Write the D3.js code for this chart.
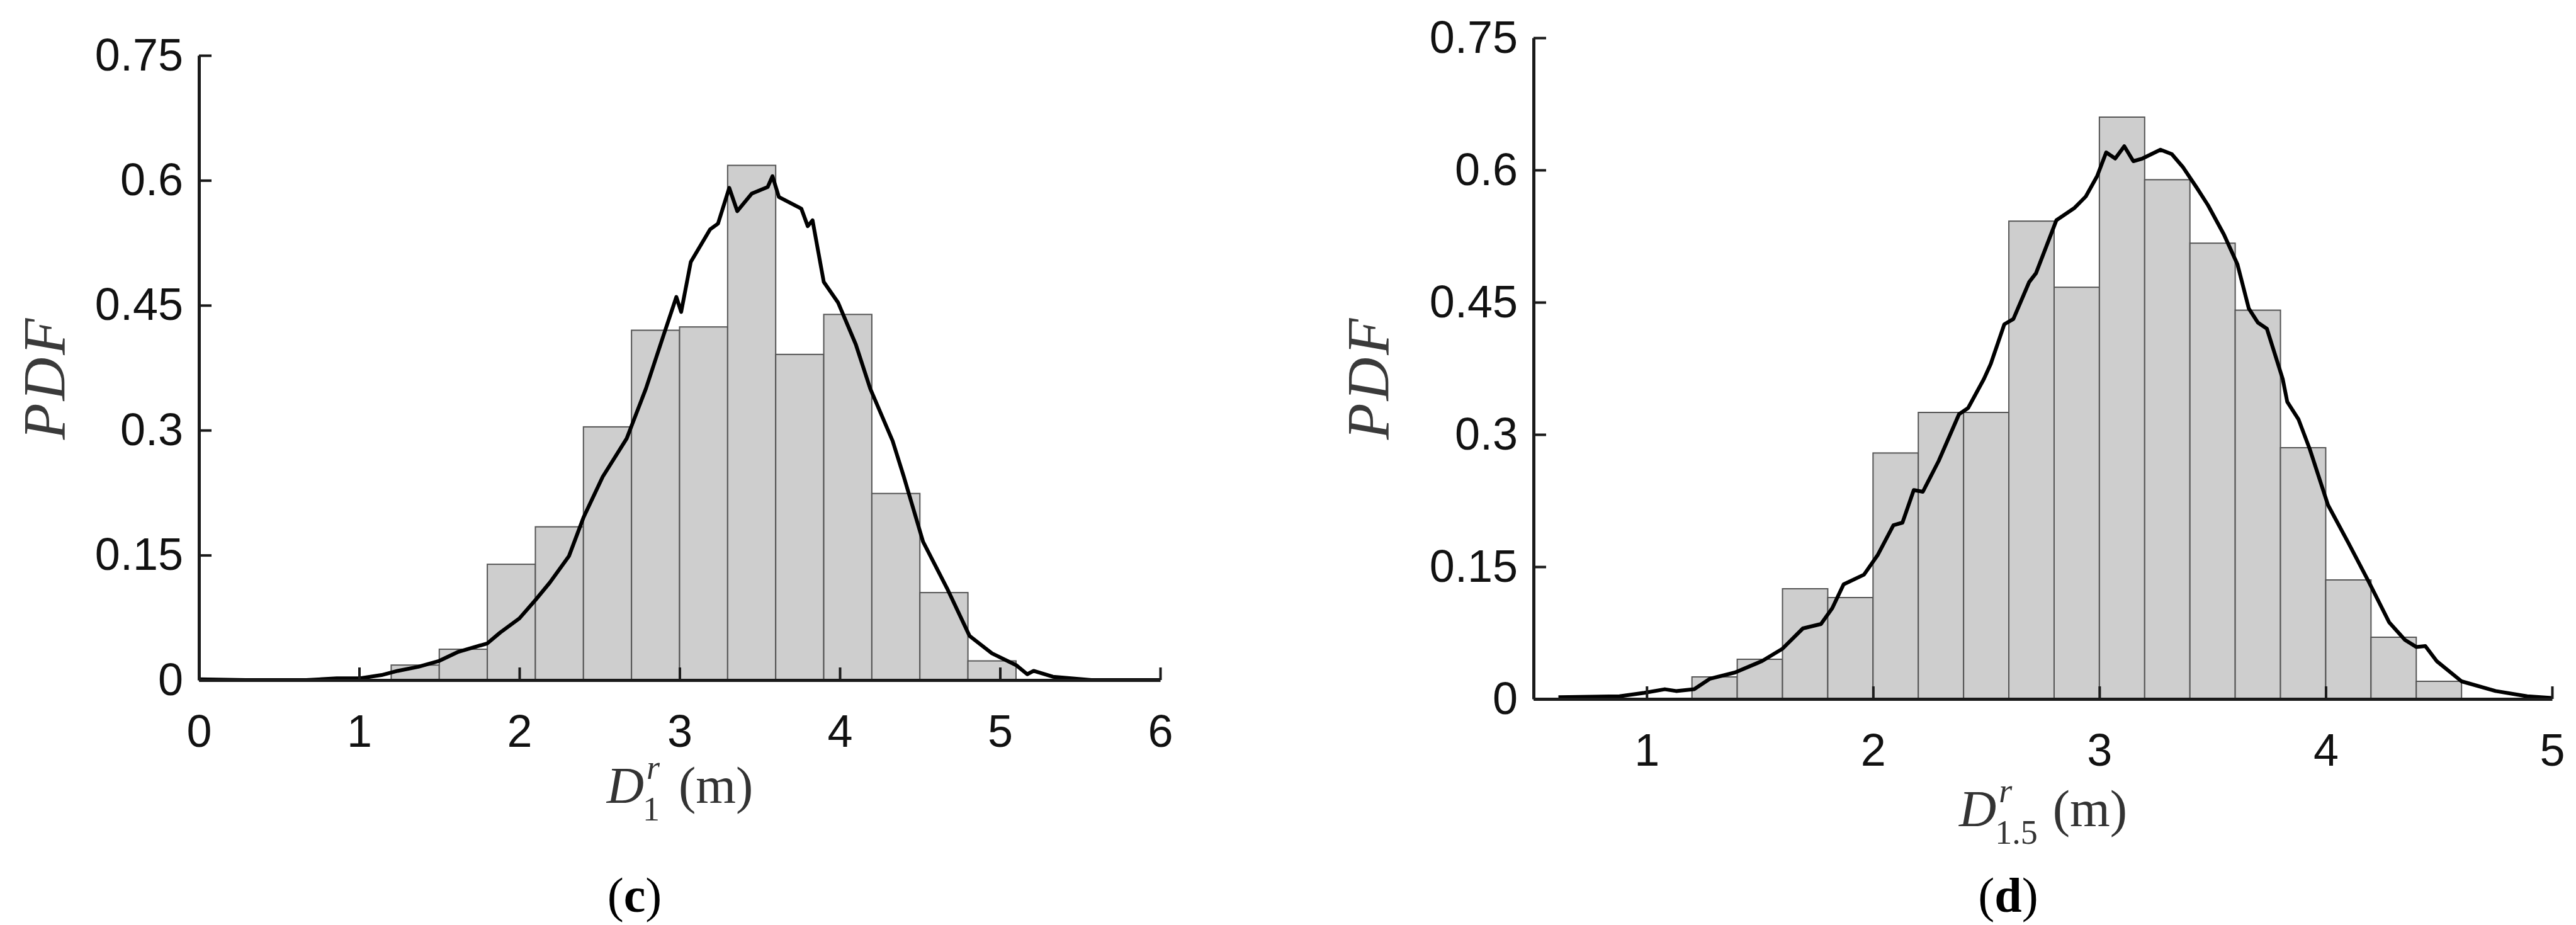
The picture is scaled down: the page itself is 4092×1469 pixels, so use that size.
<!DOCTYPE html>
<html>
<head>
<meta charset="utf-8">
<script src="https://cdn.jsdelivr.net/npm/d3@7"></script>
<style>
    body { margin: 0; background: #fff; }
    .tick text { font-family: "Liberation Sans", Arial, sans-serif; }
</style>
</head>
<body>
<svg id="fig" width="4092" height="1469"></svg>
<script>

//  panel (c) : D_1^r
var edgesC = [1.2, 1.5, 1.8, 2.1, 2.4, 2.7, 3.0, 3.3, 3.6, 3.9, 4.2, 4.5, 4.8, 5.1];
var pdfC = [0.018, 0.037, 0.139, 0.184, 0.304, 0.420, 0.424, 0.618, 0.391, 0.439, 0.224, 0.105, 0.023];
var kdeXC = [0, 0.29, 0.67, 0.86, 1.0, 1.14, 1.24, 1.37, 1.5, 1.62, 1.8, 1.88, 2.0, 2.1, 2.19, 2.31, 2.4, 2.52, 2.67, 2.79, 2.9, 2.98, 3.01, 3.07, 3.19, 3.24, 3.31, 3.36, 3.45, 3.55, 3.58, 3.62, 3.76, 3.8, 3.83, 3.9, 3.99, 4.1, 4.19, 4.33, 4.4, 4.52, 4.67, 4.81, 4.95, 5.1, 5.17, 5.21, 5.33, 5.57, 6.0];
var kdeYC = [0.001, 0.0, 0.0, 0.002, 0.002, 0.006, 0.011, 0.016, 0.023, 0.034, 0.044, 0.057, 0.074, 0.096, 0.117, 0.149, 0.195, 0.244, 0.290, 0.350, 0.414, 0.460, 0.442, 0.502, 0.541, 0.548, 0.591, 0.563, 0.584, 0.592, 0.605, 0.580, 0.566, 0.545, 0.552, 0.478, 0.453, 0.403, 0.350, 0.287, 0.244, 0.166, 0.110, 0.053, 0.032, 0.018, 0.007, 0.011, 0.004, 0.0, 0.0];
var xTicksC = [0, 1, 2, 3, 4, 5, 6];

//  panel (d) : D_1.5^r
var edgesD = [1.2, 1.4, 1.6, 1.8, 2.0, 2.2, 2.4, 2.6, 2.8, 3.0, 3.2, 3.4, 3.6, 3.8, 4.0, 4.2, 4.4, 4.6];
var pdfD = [0.025, 0.045, 0.125, 0.115, 0.279, 0.325, 0.325, 0.542, 0.467, 0.660, 0.589, 0.517, 0.441, 0.285, 0.135, 0.070, 0.020];
var kdeXD = [0.61, 0.88, 0.99, 1.08, 1.13, 1.21, 1.28, 1.39, 1.51, 1.6, 1.69, 1.77, 1.82, 1.87, 1.96, 2.02, 2.09, 2.13, 2.18, 2.22, 2.29, 2.38, 2.42, 2.49, 2.52, 2.58, 2.62, 2.69, 2.72, 2.78, 2.81, 2.89, 2.94, 2.99, 3.03, 3.07, 3.11, 3.15, 3.19, 3.23, 3.27, 3.32, 3.37, 3.43, 3.48, 3.55, 3.61, 3.66, 3.7, 3.74, 3.81, 3.83, 3.88, 3.93, 4.01, 4.1, 4.19, 4.28, 4.35, 4.4, 4.44, 4.49, 4.6, 4.75, 4.89, 5.0];
var kdeYD = [0.002, 0.003, 0.007, 0.011, 0.009, 0.011, 0.023, 0.030, 0.043, 0.057, 0.080, 0.085, 0.103, 0.130, 0.141, 0.163, 0.197, 0.200, 0.237, 0.235, 0.270, 0.323, 0.330, 0.363, 0.380, 0.425, 0.431, 0.473, 0.483, 0.523, 0.543, 0.557, 0.570, 0.593, 0.620, 0.613, 0.627, 0.610, 0.613, 0.618, 0.623, 0.618, 0.603, 0.580, 0.560, 0.527, 0.493, 0.443, 0.427, 0.420, 0.363, 0.337, 0.317, 0.283, 0.220, 0.177, 0.133, 0.087, 0.067, 0.059, 0.060, 0.043, 0.020, 0.009, 0.003, 0.001];
var xTicksD = [1, 2, 3, 4, 5];

var yTicks = [0, 0.15, 0.3, 0.45, 0.6, 0.75];
var yTickLabels = ['0', '0.15', '0.3', '0.45', '0.6', '0.75'];

var panels = [
    {
        'letter' : 'c', 'sub' : '1',
        'edges' : edgesC, 'pdf' : pdfC, 'kx' : kdeXC, 'ky' : kdeYC, 'xticks' : xTicksC,
        'xdom' : [0, 6], 'left' : 316, 'right' : 1843, 'bottom' : 1080, 'top' : 88,
        'ylab_x' : 103, 'xlab_y' : 1275, 'tag_x' : 1008, 'tag_y' : 1448
    },
    {
        'letter' : 'd', 'sub' : '1.5',
        'edges' : edgesD, 'pdf' : pdfD, 'kx' : kdeXD, 'ky' : kdeYD, 'xticks' : xTicksD,
        'xdom' : [0.5, 5], 'left' : 2436, 'right' : 4054, 'bottom' : 1110, 'top' : 60,
        'ylab_x' : 2206, 'xlab_y' : 1312, 'tag_x' : 3190, 'tag_y' : 1448
    }
];

var svg = d3.select('#fig');

for (var i = 0; i < panels.length; ++i) {
    drawPanel(panels[i]);
}


function drawPanel(p) {

    var x = d3.scaleLinear().domain(p.xdom).range([p.left, p.right]);
    var y = d3.scaleLinear().domain([0, 0.75]).range([p.bottom, p.top]);

    var g = svg.append('g');

    //  histogram bars
    var bins = p.pdf.map(function(v, j) { return { 'x0' : p.edges[j], 'x1' : p.edges[j + 1], 'v' : v }; });

    g.selectAll('rect.bar')
        .data(bins)
        .enter()
        .append('rect')
        .attr('class', 'bar')
        .attr('x', function(d) { return x(d.x0); })
        .attr('width', function(d) { return x(d.x1) - x(d.x0); })
        .attr('y', function(d) { return y(d.v); })
        .attr('height', function(d) { return y(0) - y(d.v); })
        .attr('fill', '#cecece')
        .attr('stroke', '#555')
        .attr('stroke-width', 2);

    //  kernel density curve
    var pts = p.kx.map(function(v, j) { return [v, p.ky[j]]; });

    var line = d3.line()
        .x(function(d) { return x(d[0]); })
        .y(function(d) { return y(d[1]); });

    g.append('path')
        .datum(pts)
        .attr('d', line)
        .attr('fill', 'none')
        .attr('stroke', '#000')
        .attr('stroke-width', 6)
        .attr('stroke-linejoin', 'round');

    //  axes, ticks pointing inward like matlab
    var yAxis = d3.axisLeft(y)
        .tickValues(yTicks)
        .tickFormat(function(d, j) { return yTickLabels[j]; })
        .tickSizeInner(-20)
        .tickSizeOuter(0)
        .tickPadding(25);

    var xAxis = d3.axisBottom(x)
        .tickValues(p.xticks)
        .tickFormat(d3.format('d'))
        .tickSizeInner(-20)
        .tickSizeOuter(0)
        .tickPadding(55);

    var ya = g.append('g')
        .attr('transform', 'translate(' + p.left + ',0)')
        .call(yAxis);

    var xa = g.append('g')
        .attr('transform', 'translate(0,' + p.bottom + ')')
        .call(xAxis);

    [ya, xa].forEach(function(a) {
        a.select('.domain').attr('stroke', '#1a1a1a').attr('stroke-width', 5);
        a.selectAll('.tick line').attr('stroke', '#1a1a1a').attr('stroke-width', 4);
        a.selectAll('.tick text')
            .attr('font-size', 72)
            .attr('fill', '#111');
    });

    //  PDF label
    svg.append('text')
        .attr('transform', 'translate(' + p.ylab_x + ',600) rotate(-90)')
        .attr('text-anchor', 'middle')
        .attr('font-family', '"Liberation Serif", serif')
        .attr('font-style', 'italic')
        .attr('font-size', 95)
        .attr('fill', '#3a3a3a')
        .attr('letter-spacing', 4)
        .text('PDF');

    drawXLabel(p, (p.left + p.right) / 2);

    //  panel tag
    var tag = svg.append('text')
        .attr('x', p.tag_x)
        .attr('y', p.tag_y)
        .attr('text-anchor', 'middle')
        .attr('font-family', '"Liberation Serif", serif')
        .attr('font-size', 78)
        .attr('fill', '#000');
    tag.append('tspan').text('(');
    tag.append('tspan').attr('font-weight', 'bold').text(p.letter);
    tag.append('tspan').text(')');
}


function measure(str, size, italic) {
    var t = svg.append('text')
        .attr('font-family', '"Liberation Serif", serif')
        .attr('font-size', size)
        .attr('font-style', italic ? 'italic' : 'normal')
        .text(str);
    var w = t.node().getComputedTextLength();
    t.remove();
    return w;
}


function drawXLabel(p, cx) {

    var big = 82, small = 54;

    var rw = measure('r', small, true);
    var sw = measure(p.sub, small, false);

    //  one text element: D, superscript r, subscript stacked under it, then (m)
    var lab = svg.append('text')
        .attr('x', 0)
        .attr('y', p.xlab_y)
        .attr('font-family', '"Liberation Serif", serif')
        .attr('font-size', big)
        .attr('fill', '#333');

    lab.append('tspan').attr('font-style', 'italic').text('D');

    lab.append('tspan')
        .attr('font-style', 'italic')
        .attr('font-size', small)
        .attr('dx', 4)
        .attr('dy', -38)
        .text('r');

    lab.append('tspan')
        .attr('font-size', small)
        .attr('dx', -(rw + 6))
        .attr('dy', 66)
        .text(p.sub);

    lab.append('tspan')
        .attr('dx', Math.max(rw + 6, sw - 6) + 30 - sw)
        .attr('dy', -28)
        .text('(m)');

    var bb = lab.node().getBBox();

    lab.attr('x', cx - bb.width / 2 - bb.x);
}

</script>
</body>
</html>
